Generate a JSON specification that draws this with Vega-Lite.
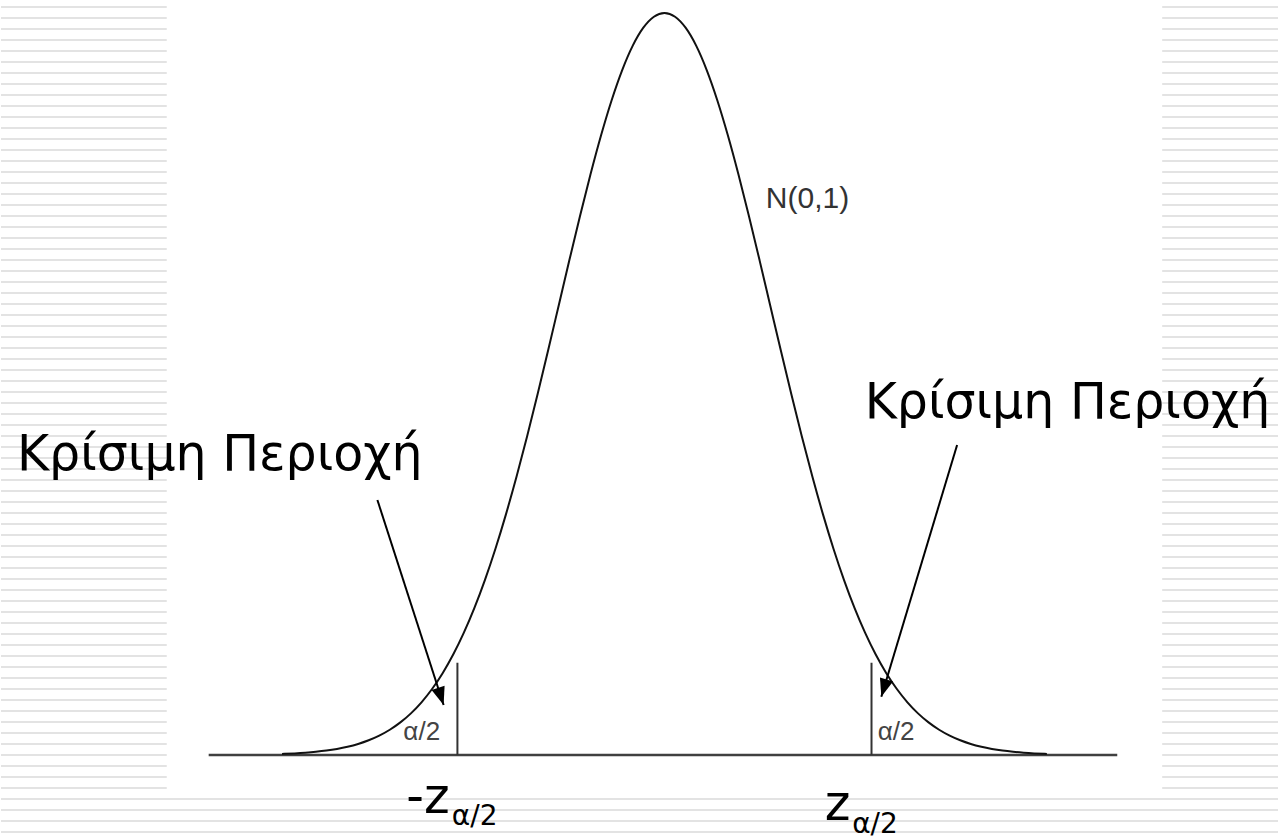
{
  "$schema": "https://vega.github.io/schema/vega-lite/v6.json",
  "width": 1279,
  "height": 839,
  "autosize": {"type": "fit", "contains": "padding"},
  "padding": 0,
  "background": "white",
  "config": {"view": {"stroke": null}},
  "datasets": {
    "stripes": [
      {"k":0},{"k":1},{"k":2},{"k":3},{"k":4},{"k":5},{"k":6},{"k":7},{"k":8},{"k":9},
      {"k":10},{"k":11},{"k":12},{"k":13},{"k":14},{"k":15},{"k":16},{"k":17},{"k":18},{"k":19},
      {"k":20},{"k":21},{"k":22},{"k":23},{"k":24},{"k":25},{"k":26},{"k":27},{"k":28},{"k":29},
      {"k":30},{"k":31},{"k":32},{"k":33},{"k":34},{"k":35},{"k":36},{"k":37},{"k":38},{"k":39},
      {"k":40},{"k":41},{"k":42},{"k":43},{"k":44},{"k":45},{"k":46},{"k":47},{"k":48},{"k":49},
      {"k":50},{"k":51},{"k":52},{"k":53},{"k":54},{"k":55},{"k":56},{"k":57},{"k":58},{"k":59},
      {"k":60},{"k":61},{"k":62},{"k":63},{"k":64},{"k":65},{"k":66},{"k":67},{"k":68},{"k":69},
      {"k":70},{"k":71},{"k":72},{"k":73},{"k":74},{"k":75}
    ],
    "curve": [
      {"z":-3.62,"d":0.00057},{"z":-3.6,"d":0.00061},{"z":-3.5,"d":0.00087},{"z":-3.4,"d":0.00123},
      {"z":-3.3,"d":0.00172},{"z":-3.2,"d":0.00238},{"z":-3.1,"d":0.00327},{"z":-3.0,"d":0.00443},
      {"z":-2.9,"d":0.00595},{"z":-2.8,"d":0.00792},{"z":-2.7,"d":0.01042},{"z":-2.6,"d":0.01358},
      {"z":-2.5,"d":0.01753},{"z":-2.4,"d":0.02239},{"z":-2.3,"d":0.02833},{"z":-2.2,"d":0.03547},
      {"z":-2.1,"d":0.04398},{"z":-2.0,"d":0.05399},{"z":-1.9,"d":0.06562},{"z":-1.8,"d":0.07895},
      {"z":-1.7,"d":0.09405},{"z":-1.6,"d":0.11092},{"z":-1.5,"d":0.12952},{"z":-1.4,"d":0.14973},
      {"z":-1.3,"d":0.17137},{"z":-1.2,"d":0.19419},{"z":-1.1,"d":0.21785},{"z":-1.0,"d":0.24197},
      {"z":-0.9,"d":0.26609},{"z":-0.8,"d":0.28969},{"z":-0.7,"d":0.31225},{"z":-0.6,"d":0.33322},
      {"z":-0.5,"d":0.35207},{"z":-0.4,"d":0.36827},{"z":-0.3,"d":0.38139},{"z":-0.2,"d":0.39104},
      {"z":-0.1,"d":0.39695},{"z":0.0,"d":0.39894},
      {"z":0.1,"d":0.39695},{"z":0.2,"d":0.39104},{"z":0.3,"d":0.38139},{"z":0.4,"d":0.36827},
      {"z":0.5,"d":0.35207},{"z":0.6,"d":0.33322},{"z":0.7,"d":0.31225},{"z":0.8,"d":0.28969},
      {"z":0.9,"d":0.26609},{"z":1.0,"d":0.24197},{"z":1.1,"d":0.21785},{"z":1.2,"d":0.19419},
      {"z":1.3,"d":0.17137},{"z":1.4,"d":0.14973},{"z":1.5,"d":0.12952},{"z":1.6,"d":0.11092},
      {"z":1.7,"d":0.09405},{"z":1.8,"d":0.07895},{"z":1.9,"d":0.06562},{"z":2.0,"d":0.05399},
      {"z":2.1,"d":0.04398},{"z":2.2,"d":0.03547},{"z":2.3,"d":0.02833},{"z":2.4,"d":0.02239},
      {"z":2.5,"d":0.01753},{"z":2.6,"d":0.01358},{"z":2.7,"d":0.01042},{"z":2.8,"d":0.00792},
      {"z":2.9,"d":0.00595},{"z":3.0,"d":0.00443},{"z":3.1,"d":0.00327},{"z":3.2,"d":0.00238},
      {"z":3.3,"d":0.00172},{"z":3.4,"d":0.00123},{"z":3.5,"d":0.00087},{"z":3.6,"d":0.00061},
      {"z":3.62,"d":0.00057}
    ]
  },
  "layer": [
    {
      "data": {"name": "stripes"},
      "mark": {"type": "rule", "color": "#e3e3e3", "strokeWidth": 2},
      "encoding": {
        "y": {"field": "k", "type": "quantitative", "axis": null,
              "scale": {"domain": [-0.63636, 75.63636], "reverse": true, "nice": false, "zero": false}}
      }
    },
    {
      "layer": [
        {
          "data": {"values": [{"x": -4.7117, "x2": 4.7117, "y": -0.020431, "y2": 0.405936}]},
          "mark": {"type": "rect", "fill": "white", "stroke": null},
          "encoding": {
            "x": {"field": "x", "type": "quantitative", "axis": null,
                  "scale": {"domain": [-6.2807, 5.8081], "nice": false, "zero": false}},
            "x2": {"field": "x2"},
            "y": {"field": "y", "type": "quantitative", "axis": null,
                  "scale": {"domain": [-0.045164, 0.405936], "nice": false, "zero": false}},
            "y2": {"field": "y2"}
          }
        },
        {
          "data": {"values": [{"x": -4.3147, "x2": 4.2864, "y": 0}]},
          "mark": {"type": "rule", "color": "#404040", "strokeWidth": 2.4},
          "encoding": {
            "x": {"field": "x", "type": "quantitative", "axis": null},
            "x2": {"field": "x2"},
            "y": {"field": "y", "type": "quantitative", "axis": null}
          }
        },
        {
          "data": {"values": [{"z": -1.96, "d0": 0, "d1": 0.0496}, {"z": 1.96, "d0": 0, "d1": 0.0496}]},
          "mark": {"type": "rule", "color": "#333333", "strokeWidth": 2},
          "encoding": {
            "x": {"field": "z", "type": "quantitative", "axis": null},
            "y": {"field": "d0", "type": "quantitative", "axis": null},
            "y2": {"field": "d1"}
          }
        },
        {
          "data": {"name": "curve"},
          "mark": {"type": "line", "color": "#111111", "strokeWidth": 2, "interpolate": "monotone"},
          "encoding": {
            "x": {"field": "z", "type": "quantitative", "axis": null},
            "y": {"field": "d", "type": "quantitative", "axis": null}
          }
        },
        {
          "data": {"values": [
            {"side": "left", "x": -2.7174, "y": 0.13710, "x2": -2.0907, "y2": 0.026883},
            {"side": "right", "x": 2.7703, "y": 0.16668, "x2": 2.0529, "y2": 0.031346}
          ]},
          "mark": {"type": "rule", "color": "#000000", "strokeWidth": 2},
          "encoding": {
            "x": {"field": "x", "type": "quantitative", "axis": null},
            "y": {"field": "y", "type": "quantitative", "axis": null},
            "x2": {"field": "x2"},
            "y2": {"field": "y2"}
          }
        },
        {
          "data": {"values": [{"side": "left", "x": -2.0907, "y": 0.026883}]},
          "mark": {"type": "point", "shape": "M0,0L0.38,1L-0.38,1Z", "size": 1296, "filled": true, "color": "#000000", "opacity": 1, "angle": 162.1},
          "encoding": {
            "x": {"field": "x", "type": "quantitative", "axis": null},
            "y": {"field": "y", "type": "quantitative", "axis": null}
          }
        },
        {
          "data": {"values": [{"side": "right", "x": 2.0529, "y": 0.031346}]},
          "mark": {"type": "point", "shape": "M0,0L0.38,1L-0.38,1Z", "size": 1296, "filled": true, "color": "#000000", "opacity": 1, "angle": 196.8},
          "encoding": {
            "x": {"field": "x", "type": "quantitative", "axis": null},
            "y": {"field": "y", "type": "quantitative", "axis": null}
          }
        },
        {
          "data": {"values": [
            {"x": -6.1295, "y": 0.15323, "label": "Κρίσιμη Περιοχή"},
            {"x": 1.8951, "y": 0.18119, "label": "Κρίσιμη Περιοχή"},
            {"x": -2.4433, "y": -0.031184, "label": "-z"},
            {"x": 1.5170, "y": -0.034948, "label": "z"}
          ]},
          "mark": {"type": "text", "font": "DejaVu Sans", "fontSize": 49, "color": "#000000", "align": "left", "baseline": "alphabetic"},
          "encoding": {
            "x": {"field": "x", "type": "quantitative", "axis": null},
            "y": {"field": "y", "type": "quantitative", "axis": null},
            "text": {"field": "label"}
          }
        },
        {
          "data": {"values": [
            {"x": -2.0132, "y": -0.037637, "label": "α/2"},
            {"x": 1.7769, "y": -0.041938, "label": "α/2"}
          ]},
          "mark": {"type": "text", "font": "DejaVu Sans", "fontSize": 28, "color": "#000000", "align": "left", "baseline": "alphabetic"},
          "encoding": {
            "x": {"field": "x", "type": "quantitative", "axis": null},
            "y": {"field": "y", "type": "quantitative", "axis": null},
            "text": {"field": "label"}
          }
        },
        {
          "data": {"values": [
            {"x": -2.4716, "y": 0.008065, "label": "α/2"},
            {"x": 2.0180, "y": 0.008065, "label": "α/2"}
          ]},
          "mark": {"type": "text", "font": "Liberation Sans", "fontSize": 26, "color": "#444444", "align": "left", "baseline": "alphabetic"},
          "encoding": {
            "x": {"field": "x", "type": "quantitative", "axis": null},
            "y": {"field": "y", "type": "quantitative", "axis": null},
            "text": {"field": "label"}
          }
        },
        {
          "data": {"values": [{"x": 0.9594, "y": 0.29410, "label": "N(0,1)"}]},
          "mark": {"type": "text", "font": "Liberation Sans", "fontSize": 30, "color": "#333333", "align": "left", "baseline": "alphabetic"},
          "encoding": {
            "x": {"field": "x", "type": "quantitative", "axis": null},
            "y": {"field": "y", "type": "quantitative", "axis": null},
            "text": {"field": "label"}
          }
        }
      ]
    }
  ],
  "resolve": {"scale": {"x": "independent", "y": "independent"}}
}
